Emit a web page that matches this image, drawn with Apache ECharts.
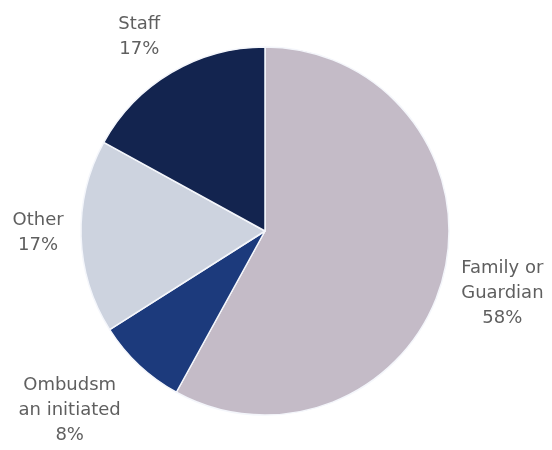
<!DOCTYPE html>
<html>
<head>
<meta charset="utf-8">
<script src="https://cdn.jsdelivr.net/npm/echarts@6/dist/echarts.min.js"></script>
<style>
  html, body { margin: 0; padding: 0; background: #ffffff; }
  #chart { width: 552px; height: 450px; }
</style>
</head>
<body>
<div id="chart"></div>
<script>
// Referral sources (percent of cases)
const categories = ['Family or\nGuardian', 'Ombudsm\nan initiated', 'Other', 'Staff'];
const shares = [58, 8, 17, 17];
const sliceColors = ['#c4bbc7', '#1c3a7c', '#cdd3df', '#13244f'];

// small per-label adjustments [dx, dy] applied after the ring layout
const labelNudge = [[2, 2], [-29, 2], [16, -6], [-2, 15]];

const chart = echarts.init(document.getElementById('chart'), null, { renderer: 'canvas' });

const pieData = categories.map((name, i) => ({
  name: name,
  value: shares[i],
  itemStyle: { color: sliceColors[i] }
}));

const labelData = categories.map((name, i) => ({ name: name, value: shares[i] }));

chart.setOption({
  animation: false,
  series: [
    {
      type: 'pie',
      center: [265, 231],
      radius: [0, 184],
      startAngle: 90,
      clockwise: true,
      label: { show: false },
      labelLine: { show: false },
      itemStyle: { borderColor: '#f4f6fb', borderWidth: 1.5 },
      data: pieData
    },
    {
      // transparent ring that carries the category labels, centred just outside the pie
      type: 'pie',
      center: [265, 231],
      radius: [190, 290],
      startAngle: 90,
      clockwise: true,
      silent: true,
      itemStyle: { color: 'rgba(0,0,0,0)' },
      labelLine: { show: false },
      label: {
        show: true,
        position: 'inside',
        overflow: 'none',
        formatter: '{b}\n{c}%',
        fontFamily: 'DejaVu Sans',
        fontSize: 18,
        lineHeight: 25,
        color: '#5f5f5f',
        align: 'center'
      },
      labelLayout: function (params) {
        const n = labelNudge[params.dataIndex] || [0, 0];
        return { dx: n[0], dy: n[1] };
      },
      data: labelData
    }
  ]
});
</script>
</body>
</html>
